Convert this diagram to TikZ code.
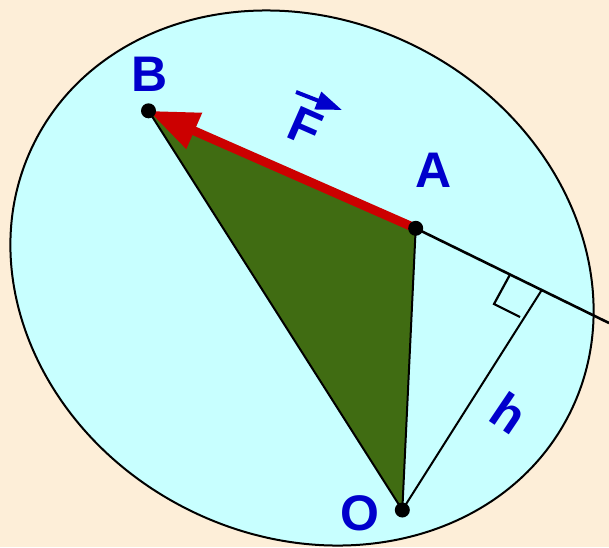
\documentclass[tikz,border=0pt]{standalone}
\usepackage{fontspec}
\setmainfont{Liberation Sans}
\usetikzlibrary{arrows.meta,shapes.geometric,calc}
\definecolor{paper}{HTML}{FDEED8}
\definecolor{disc}{HTML}{C8FFFF}
\definecolor{leaf}{HTML}{406C12}
\definecolor{force}{HTML}{CC0000}
\definecolor{lbl}{HTML}{0000CC}

\begin{document}
\begin{tikzpicture}[x=0.5pt, y=-0.5pt,
  pnt/.style={circle, fill=black, inner sep=0pt, minimum size=7.5pt},
  lab/.style={text=lbl, font=\fontsize{25}{30}\selectfont\bfseries, inner sep=0pt},
  geo/.style={draw=black, line width=1pt},
]
% page and tilted disc
\fill[paper] (0,0) rectangle (609,547);
\useasboundingbox (0,0) rectangle (609,547);
\node[ellipse, draw=black, line width=1pt, fill=disc, inner sep=0pt, minimum width=300pt, minimum height=258pt, rotate=-27.5] (orbit) at (302,278) {};
% points of the triangle
\coordinate (O) at (402.3,510);
\coordinate (A) at (415.7,228.3);
\coordinate (B) at (148.5,110.8);
\coordinate (E) at (609,323);
\coordinate (foot) at ($(A)!0.652!(E)$);
\coordinate (r1) at ($(A)!0.488!(E)$);
\coordinate (r2) at (494,304);
\coordinate (r3) at (520,317);
% area OAB
\draw[geo, fill=leaf] (O) -- (A) -- (B) -- cycle;
% line of action and lever arm
\draw[geo, line width=1.3pt] (A) -- (E);
\draw[geo] (O) -- (foot);
\draw[geo, line width=1.1pt] (r1) -- (r2) -- (r3);
% the force
\draw[force, line width=4.5pt, -{Triangle[length=25pt, width=18.5pt]}] (A) -- (B);
\node[pnt] (dotO) at (O) {};
\node[pnt] (dotA) at (A) {};
\node[pnt] (dotB) at (B) {};
% labels
\node[lab] (labB) at (150,74) {B};
\node[lab] (labA) at (433.5,170.5) {A};
\node[lab] (labO) at (360,513) {O};
\node[lab, rotate=-34] (labh) at (509,413) {h};
\node[lab, rotate=-23.7] (labF) at (305,127) {F};
\coordinate (Fs) at (296,92);
\coordinate (Fe) at (342,110);
\draw[lbl, line width=2pt, -{Triangle[length=13pt, width=9pt]}] (Fs) -- (Fe);
\end{tikzpicture}
\end{document}
